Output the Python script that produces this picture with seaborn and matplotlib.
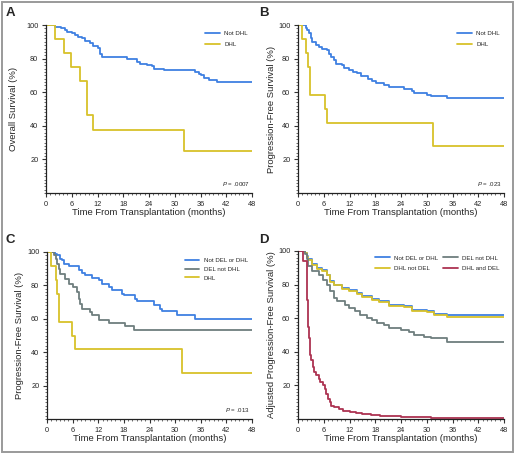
import matplotlib
matplotlib.use('Agg')
import matplotlib.pyplot as plt
import seaborn as sns
import pandas as pd
from matplotlib.patches import Rectangle
from matplotlib.ticker import MultipleLocator

# --- data (months, % surviving) ---
a_notdhl_t = [0, 2.1, 3.6, 4.4, 4.8, 6.0, 6.8, 7.5, 8.3, 9.1, 10.3, 11.0, 12.2, 12.6, 13.0,
              18.8, 19.6, 21.1, 21.9, 23.5, 24.7, 25.1, 27.4, 34.8, 35.6, 36.0, 36.7, 37.9, 39.8, 48]
a_notdhl_s = [100, 99, 98, 97, 96, 95, 94, 93, 92, 90.5, 89, 87.5, 86.5, 83, 81,
              80, 79.5, 78, 77, 76, 75.5, 74, 73, 72, 71, 70, 68.5, 67, 66, 66]
a_dhl_t = [0, 2.1, 4.1, 5.8, 7.9, 9.5, 10.9, 32.1, 48]
a_dhl_s = [100, 91.7, 83.3, 75, 66.7, 46.7, 37.5, 25, 25]

b_notdhl_t = [0, 1.8, 2.2, 2.6, 3.0, 3.3, 4.1, 4.9, 5.7, 6.8, 7.2, 7.6, 8.4, 8.8, 10.3, 10.7,
              11.9, 12.7, 13.8, 14.6, 16.2, 17.3, 18.1, 20.0, 21.2, 24.7, 26.6, 27.0, 30.1,
              30.9, 34.8, 48]
b_notdhl_s = [100, 98.5, 97, 95, 92, 90, 88, 87, 86, 85, 83, 81, 79, 77, 76, 74.5,
              73.5, 72.3, 71.3, 69.4, 68, 66.8, 65.4, 64.5, 63, 62, 60.5, 59.5, 58.5,
              58, 56.5, 56.5]
b_dhl_t = [0, 1.0, 1.8, 2.4, 2.7, 6.3, 6.7, 31.5, 48]
b_dhl_s = [100, 91.7, 83.3, 75, 58.3, 50, 41.7, 27.8, 27.8]

c_neither_t = [0, 1.8, 2.3, 3.0, 3.5, 3.9, 5.1, 7.4, 8.2, 9.0, 10.5, 12.1, 12.9, 14.4, 15.2,
               17.6, 18.0, 20.7, 21.1, 25.0, 26.5, 26.9, 30.4, 34.7, 48]
c_neither_s = [100, 99, 98, 96, 95, 93, 91.5, 89, 87.5, 86, 84.5, 83, 81, 79, 77,
               75, 74, 72, 70.5, 68.5, 66, 64.5, 62.5, 60, 60]
c_del_t = [0, 1.7, 2.0, 2.3, 2.7, 3.1, 4.3, 5.1, 6.2, 7.0, 7.4, 7.8, 8.2, 10.1, 10.5,
           12.1, 14.4, 18.3, 20.3, 48]
c_del_s = [100, 98, 96, 93, 90, 87, 84, 81, 79, 76, 72, 69, 66, 64, 62,
           59.5, 57.5, 55.5, 53, 53]
c_dhl_t = [0, 1.0, 2.0, 2.4, 2.7, 5.9, 6.6, 31.6, 48]
c_dhl_s = [100, 91.7, 83.3, 75, 58.3, 50, 41.7, 27.8, 27.8]

d_neither_t = [0, 1.6, 2.0, 2.4, 3.2, 4.4, 5.5, 6.7, 7.5, 8.3, 10.2, 11.8, 13.7, 14.9, 17.2,
               18.8, 21.1, 24.6, 26.6, 30.1, 31.6, 34.8, 48]
d_neither_s = [100, 99, 97, 95, 92, 90, 88.5, 86, 82, 80, 78, 76.5, 75, 73, 71.5,
               70, 68, 67, 65, 64, 62.5, 61.8, 61.8]
d_dhl_s = [100, 99, 96.5, 94.5, 91.5, 89.5, 88, 85.5, 81.5, 79.5, 77.5, 76, 74.5, 72.5, 71,
           69.5, 67.5, 66.5, 64.5, 63.5, 62, 61, 61]
d_del_t = [0, 1.6, 2.0, 2.4, 3.2, 4.8, 5.9, 6.7, 7.5, 8.3, 9.0, 11.0, 11.8, 13.3, 14.5,
           16.1, 17.2, 18.4, 20.0, 21.1, 23.9, 25.8, 27.0, 29.3, 30.9, 34.8, 48]
d_del_s = [100, 98, 95, 91, 88, 86, 83, 80, 76, 72, 70, 68, 66, 64, 62,
           60, 59, 57, 56, 54, 53, 52, 50, 49, 48, 46, 46]
d_both_t = [0, 1.2, 2.0, 2.1, 2.2, 2.3, 2.4, 2.55, 2.7, 2.9, 3.1, 3.4, 3.8, 4.3, 4.8, 5.2,
            5.8, 6.3, 6.6, 7.0, 7.4, 7.8, 8.4, 9.5, 10.5, 12, 13.5, 15, 17, 19, 21, 24,
            27, 31, 36, 42, 48]
d_both_s = [100, 94, 87, 79, 71, 63, 55, 48, 42, 38, 35, 31, 28, 26, 24, 22,
            20, 18, 15, 12, 10, 8, 7, 6, 5, 4.3, 3.6, 3, 2.5, 2, 1.6, 1.3,
            1.0, 0.8, 0.6, 0.5, 0.5]

p_values = ['.0007', '.023', '.013', None]
x_ticks = [0, 6, 12, 18, 24, 30, 36, 42, 48]
y_ticks = [20, 40, 60, 80, 100]

BLUE = '#3f80e2'
YELLOW = '#d8c22a'
GRAY = '#6e7e7e'
RED = '#ad3352'


def make_df(curves):
    frames = []
    for name, t, s in curves:
        frames.append(pd.DataFrame({'month': t, 'pct': s, 'group': name}))
    return pd.concat(frames, ignore_index=True)


panels = [
    dict(letter='A', ylabel='Overall Survival (%)',
         curves=[('Not DHL', a_notdhl_t, a_notdhl_s), ('DHL', a_dhl_t, a_dhl_s)],
         colors=[BLUE, YELLOW], pos=[46, 25, 252, 193], ylab_x=-0.135, ncol=1),
    dict(letter='B', ylabel='Progression-Free Survival (%)',
         curves=[('Not DHL', b_notdhl_t, b_notdhl_s), ('DHL', b_dhl_t, b_dhl_s)],
         colors=[BLUE, YELLOW], pos=[298, 25, 504, 193], ylab_x=-0.108, ncol=1),
    dict(letter='C', ylabel='Progression-Free Survival (%)',
         curves=[('Not DEL or DHL', c_neither_t, c_neither_s),
                 ('DEL not DHL', c_del_t, c_del_s),
                 ('DHL', c_dhl_t, c_dhl_s)],
         colors=[BLUE, GRAY, YELLOW], pos=[47, 252, 252, 419], ylab_x=-0.112, ncol=1),
    dict(letter='D', ylabel='Adjusted Progression-Free Survival (%)',
         curves=[('Not DEL or DHL', d_neither_t, d_neither_s),
                 ('DHL not DEL', d_neither_t, d_dhl_s),
                 ('DEL not DHL', d_del_t, d_del_s),
                 ('DHL and DEL', d_both_t, d_both_s)],
         colors=[BLUE, YELLOW, GRAY, RED], pos=[298, 251, 504, 419], ylab_x=-0.108, ncol=2),
]

sns.set_style('ticks')
plt.rcParams['font.family'] = ['Liberation Sans', 'DejaVu Sans']
plt.rcParams['mathtext.fontset'] = 'custom'
plt.rcParams['mathtext.it'] = 'Liberation Sans:italic'
plt.rcParams['mathtext.rm'] = 'Liberation Sans'

W, H = 514, 453
fig = plt.figure(figsize=(W / 100, H / 100), dpi=100)

for i, p in enumerate(panels):
    x0, y0, x1, y1 = p['pos']
    ax = fig.add_axes([x0 / W, 1 - y1 / H, (x1 - x0) / W, (y1 - y0) / H])
    df = make_df(p['curves'])
    names = [c[0] for c in p['curves']]
    sns.lineplot(data=df, x='month', y='pct', hue='group', hue_order=names,
                 palette=dict(zip(names, p['colors'])), drawstyle='steps-post',
                 estimator=None, sort=False, linewidth=1.3, legend=False, ax=ax)
    ax.set_xlim(0, 48)
    ax.set_ylim(0, 100)
    ax.set_xticks(x_ticks)
    ax.set_yticks(y_ticks)
    ax.xaxis.set_minor_locator(MultipleLocator(1))
    ax.yaxis.set_minor_locator(MultipleLocator(2))
    ax.tick_params(which='major', length=3, width=0.8, labelsize=5.3, pad=2.5, color='#333333')
    ax.tick_params(which='minor', length=1.6, width=0.5, color='#333333')
    for s in ['top', 'right']:
        ax.spines[s].set_visible(False)
    for s in ['left', 'bottom']:
        ax.spines[s].set_linewidth(0.9)
        ax.spines[s].set_color('#222222')
    ax.set_xlabel('Time From Transplantation (months)', fontsize=6.8)
    ax.set_ylabel(p['ylabel'], fontsize=6.8)
    ax.xaxis.set_label_coords(0.5, -0.09)
    ax.yaxis.set_label_coords(p['ylab_x'], 0.5)

    lines = ax.get_lines()
    ax.legend(lines, names, loc='upper right', bbox_to_anchor=(1.0, 0.99), ncol=p['ncol'],
              fontsize=4.4, frameon=False, handlelength=2.4, handletextpad=0.7,
              labelspacing=0.55 if p['ncol'] == 1 and len(names) == 3 else 0.9,
              columnspacing=0.8, borderpad=0.2)
    if p['ncol'] == 2:
        ax.get_legend().set_bbox_to_anchor((1.0, 1.0))
    if p_values[i]:
        ax.text(0.99, 0.03, r'$\it{P}$ = ' + p_values[i], transform=ax.transAxes,
                ha='right', va='bottom', fontsize=4.4)

    lx = 6 if p['letter'] in 'AC' else 259
    ly = 7 if p['letter'] in 'AB' else 234
    fig.text(lx / W, 1 - ly / H, p['letter'], fontsize=9.5, fontweight='bold', va='top', ha='left')

fig.patches.append(Rectangle((1.5 / W, 1.5 / H), (W - 3) / W, (H - 3) / H,
                             transform=fig.transFigure, fill=False,
                             edgecolor='#9a9a9a', linewidth=1.4))

fig.savefig('out.png', dpi=100)
